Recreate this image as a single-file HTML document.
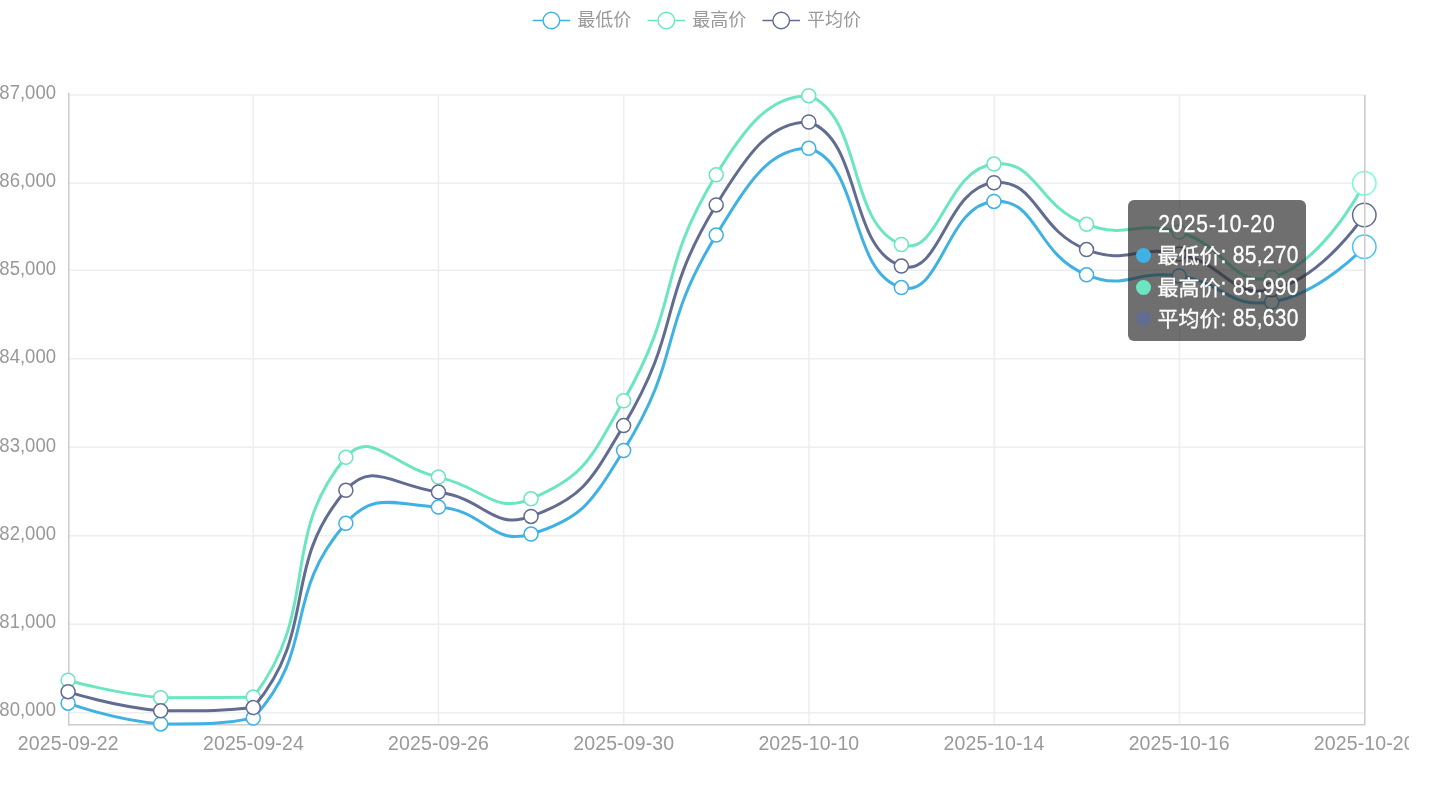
<!DOCTYPE html>
<html lang="zh-CN">
<head>
<meta charset="utf-8">
<title>价格走势</title>
<style>
html,body{margin:0;padding:0;background:#ffffff;}
body{width:1446px;height:789px;overflow:hidden;position:relative;font-family:"Liberation Sans","Noto Sans CJK SC",sans-serif;}
svg{position:absolute;left:0;top:0;display:block;}
svg text{font-family:"Liberation Sans","Noto Sans CJK SC",sans-serif;}
.ax text{font-size:19.5px;fill:#999999;letter-spacing:0.13px;}
.ay text{letter-spacing:0;}
.lg{font-size:18px;fill:#999999;}
#tip{position:absolute;left:1128px;top:200px;width:163px;height:126px;padding:8.8px 7.5px 6.2px 7.5px;box-sizing:content-box;-webkit-text-stroke:0.3px #ffffff;background:rgba(50,50,50,0.7);border-radius:6px;color:#ffffff;font-size:21px;line-height:31.5px;white-space:nowrap;text-align:center;}
#tip .t{letter-spacing:1.0px;}
#tip .r{text-align:left;padding-left:0.5px;}
#tip .n{display:inline-block;transform:scale(1,1.14);transform-origin:0 73.1%;white-space:pre;}
#tip .r .n{letter-spacing:0.3px;}
#tip .d{display:inline-block;width:15px;height:15px;border-radius:50%;margin-right:6.5px;vertical-align:0.3px;}
</style>
</head>
<body>
<svg width="1446" height="789" viewBox="0 0 1446 789">
<g stroke="#eeeeee" stroke-width="1.5" fill="none">
<line x1="68.75" y1="95.00" x2="1364.75" y2="95.00"/>
<line x1="68.75" y1="183.25" x2="1364.75" y2="183.25"/>
<line x1="68.75" y1="270.25" x2="1364.75" y2="270.25"/>
<line x1="68.75" y1="358.75" x2="1364.75" y2="358.75"/>
<line x1="68.75" y1="447.25" x2="1364.75" y2="447.25"/>
<line x1="68.75" y1="535.75" x2="1364.75" y2="535.75"/>
<line x1="68.75" y1="624.25" x2="1364.75" y2="624.25"/>
<line x1="68.75" y1="712.75" x2="1364.75" y2="712.75"/>
<line x1="253.25" y1="95.00" x2="253.25" y2="724.75"/>
<line x1="438.50" y1="95.00" x2="438.50" y2="724.75"/>
<line x1="623.75" y1="95.00" x2="623.75" y2="724.75"/>
<line x1="809.00" y1="95.00" x2="809.00" y2="724.75"/>
<line x1="994.25" y1="95.00" x2="994.25" y2="724.75"/>
<line x1="1179.50" y1="95.00" x2="1179.50" y2="724.75"/>
<line x1="1364.75" y1="95.00" x2="1364.75" y2="724.75"/>
</g>
<g stroke="#cccccc" stroke-width="1.5" fill="none">
<line x1="68.75" y1="92.80" x2="68.75" y2="725.50"/>
<line x1="68.00" y1="724.75" x2="1365.50" y2="724.75"/>
</g>
<g class="ax ay" text-anchor="end">
<text transform="translate(56 98.80) scale(0.95 1.05)">87,000</text>
<text transform="translate(56 186.98) scale(0.95 1.05)">86,000</text>
<text transform="translate(56 275.16) scale(0.95 1.05)">85,000</text>
<text transform="translate(56 363.34) scale(0.95 1.05)">84,000</text>
<text transform="translate(56 451.52) scale(0.95 1.05)">83,000</text>
<text transform="translate(56 539.70) scale(0.95 1.05)">82,000</text>
<text transform="translate(56 627.88) scale(0.95 1.05)">81,000</text>
<text transform="translate(56 716.06) scale(0.95 1.05)">80,000</text>
</g>
<g class="ax" text-anchor="middle" clip-path="url(#cv)">
<text transform="translate(68.30 749.9) scale(1 1.04)">2025-09-22</text>
<text transform="translate(253.44 749.9) scale(1 1.04)">2025-09-24</text>
<text transform="translate(438.58 749.9) scale(1 1.04)">2025-09-26</text>
<text transform="translate(623.72 749.9) scale(1 1.04)">2025-09-30</text>
<text transform="translate(808.86 749.9) scale(1 1.04)">2025-10-10</text>
<text transform="translate(994.00 749.9) scale(1 1.04)">2025-10-14</text>
<text transform="translate(1179.14 749.9) scale(1 1.04)">2025-10-16</text>
<text transform="translate(1364.28 749.9) scale(1 1.04)">2025-10-20</text>
</g>
<defs><clipPath id="cv"><rect x="0" y="0" width="1409" height="789"/></clipPath></defs>
<path d="M68.10 703.20C68.10 703.20 113.87 720.13 160.69 723.90C206.46 723.90 225.43 723.90 253.27 718.10C318.01 647.97 281.37 596.78 345.86 523.30C373.96 491.28 392.75 504.43 438.44 507.10C485.33 509.83 490.66 546.44 531.03 534.10C583.24 518.14 591.46 502.42 623.61 450.50C684.05 352.92 656.13 333.13 716.20 235.10C748.72 182.03 768.84 148.30 808.79 148.30C861.43 163.23 848.66 272.48 901.37 287.60C941.24 299.03 946.08 204.71 993.96 201.40C1038.67 198.31 1034.64 253.89 1086.54 274.80C1127.22 291.19 1133.71 269.33 1179.13 276.00C1226.30 282.93 1228.06 308.88 1271.71 302.00C1320.65 294.28 1364.30 246.80 1364.30 246.80" fill="none" stroke="#3fb1e3" stroke-width="3" stroke-linejoin="bevel"/>
<g fill="#ffffff" stroke="#3fb1e3" stroke-width="1.5">
<circle cx="68.10" cy="703.20" r="7.0"/>
<circle cx="160.69" cy="723.90" r="7.0"/>
<circle cx="253.27" cy="718.10" r="7.0"/>
<circle cx="345.86" cy="523.30" r="7.0"/>
<circle cx="438.44" cy="507.10" r="7.0"/>
<circle cx="531.03" cy="534.10" r="7.0"/>
<circle cx="623.61" cy="450.50" r="7.0"/>
<circle cx="716.20" cy="235.10" r="7.0"/>
<circle cx="808.79" cy="148.30" r="7.0"/>
<circle cx="901.37" cy="287.60" r="7.0"/>
<circle cx="993.96" cy="201.40" r="7.0"/>
<circle cx="1086.54" cy="274.80" r="7.0"/>
<circle cx="1179.13" cy="276.00" r="7.0"/>
<circle cx="1271.71" cy="302.00" r="7.0"/>
</g>
<circle cx="1364.30" cy="246.80" r="11.7" fill="#ffffff" stroke="#45c2f9" stroke-width="1.5"/>
<path d="M68.10 680.20C68.10 680.20 113.99 693.44 160.69 697.70C206.57 697.70 228.75 697.70 253.27 697.10C321.34 608.73 278.19 537.69 345.86 457.30C370.78 427.69 392.25 466.75 438.44 477.10C484.84 487.50 492.74 514.59 531.03 498.80C585.33 476.41 590.67 458.39 623.61 400.75C683.26 296.39 654.42 276.57 716.20 174.80C747.01 124.05 770.83 95.70 808.79 95.70C863.41 116.26 846.90 224.38 901.37 244.50C939.48 258.58 945.24 169.41 993.96 164.10C1037.83 159.31 1036.26 205.86 1086.54 224.30C1128.84 239.81 1135.26 219.40 1179.13 232.00C1227.84 246.00 1231.12 288.20 1271.71 277.50C1323.71 263.80 1364.30 183.20 1364.30 183.20" fill="none" stroke="#6be6c1" stroke-width="3" stroke-linejoin="bevel"/>
<g fill="#ffffff" stroke="#6be6c1" stroke-width="1.5">
<circle cx="68.10" cy="680.20" r="7.0"/>
<circle cx="160.69" cy="697.70" r="7.0"/>
<circle cx="253.27" cy="697.10" r="7.0"/>
<circle cx="345.86" cy="457.30" r="7.0"/>
<circle cx="438.44" cy="477.10" r="7.0"/>
<circle cx="531.03" cy="498.80" r="7.0"/>
<circle cx="623.61" cy="400.75" r="7.0"/>
<circle cx="716.20" cy="174.80" r="7.0"/>
<circle cx="808.79" cy="95.70" r="7.0"/>
<circle cx="901.37" cy="244.50" r="7.0"/>
<circle cx="993.96" cy="164.10" r="7.0"/>
<circle cx="1086.54" cy="224.30" r="7.0"/>
<circle cx="1179.13" cy="232.00" r="7.0"/>
<circle cx="1271.71" cy="277.50" r="7.0"/>
</g>
<circle cx="1364.30" cy="183.20" r="11.7" fill="#ffffff" stroke="#75fdd4" stroke-width="1.5"/>
<path d="M68.10 691.70C68.10 691.70 113.92 706.78 160.69 710.80C206.51 710.80 227.19 710.80 253.27 707.60C319.77 628.41 279.35 567.70 345.86 490.30C371.93 459.95 392.92 485.67 438.44 492.10C485.51 498.75 491.71 530.57 531.03 516.45C584.30 497.33 591.07 480.37 623.61 425.62C683.66 324.62 655.27 304.86 716.20 204.95C747.85 153.05 769.84 122.00 808.79 122.00C862.43 139.70 847.77 248.46 901.37 266.05C940.36 278.84 945.65 187.05 993.96 182.75C1038.24 178.80 1035.44 229.89 1086.54 249.55C1128.03 265.51 1134.42 244.29 1179.13 254.00C1227.00 264.39 1229.61 298.62 1271.71 289.75C1322.20 279.12 1364.30 215.00 1364.30 215.00" fill="none" stroke="#626c91" stroke-width="3" stroke-linejoin="bevel"/>
<g fill="#ffffff" stroke="#626c91" stroke-width="1.5">
<circle cx="68.10" cy="691.70" r="7.0"/>
<circle cx="160.69" cy="710.80" r="7.0"/>
<circle cx="253.27" cy="707.60" r="7.0"/>
<circle cx="345.86" cy="490.30" r="7.0"/>
<circle cx="438.44" cy="492.10" r="7.0"/>
<circle cx="531.03" cy="516.45" r="7.0"/>
<circle cx="623.61" cy="425.62" r="7.0"/>
<circle cx="716.20" cy="204.95" r="7.0"/>
<circle cx="808.79" cy="122.00" r="7.0"/>
<circle cx="901.37" cy="266.05" r="7.0"/>
<circle cx="993.96" cy="182.75" r="7.0"/>
<circle cx="1086.54" cy="249.55" r="7.0"/>
<circle cx="1179.13" cy="254.00" r="7.0"/>
<circle cx="1271.71" cy="289.75" r="7.0"/>
</g>
<circle cx="1364.30" cy="215.00" r="11.7" fill="#ffffff" stroke="#626c91" stroke-width="1.5"/>
<line x1="1364.75" y1="95.00" x2="1364.75" y2="724.75" stroke="#cccccc" stroke-width="1.5"/>
<line x1="532.65" y1="20.5" x2="570.15" y2="20.5" stroke="#3fb1e3" stroke-width="1.4"/>
<circle cx="551.40" cy="20.5" r="8.3" fill="#ffffff" stroke="#3fb1e3" stroke-width="1.4"/>
<text class="lg" x="577.30" y="25.5">最低价</text>
<line x1="647.55" y1="20.5" x2="685.05" y2="20.5" stroke="#6be6c1" stroke-width="1.4"/>
<circle cx="666.30" cy="20.5" r="8.3" fill="#ffffff" stroke="#6be6c1" stroke-width="1.4"/>
<text class="lg" x="692.20" y="25.5">最高价</text>
<line x1="762.45" y1="20.5" x2="799.95" y2="20.5" stroke="#626c91" stroke-width="1.4"/>
<circle cx="781.20" cy="20.5" r="8.3" fill="#ffffff" stroke="#626c91" stroke-width="1.4"/>
<text class="lg" x="807.10" y="25.5">平均价</text>
</svg>
<div id="tip"><div class="t"><span class="n">2025-10-20</span></div><div class="r"><span class="d" style="background:#3fb1e3"></span>最低价<span class="n">: 85,270</span></div><div class="r"><span class="d" style="background:#6be6c1"></span>最高价<span class="n">: 85,990</span></div><div class="r"><span class="d" style="background:#626c91"></span>平均价<span class="n">: 85,630</span></div></div>
</body>
</html>
